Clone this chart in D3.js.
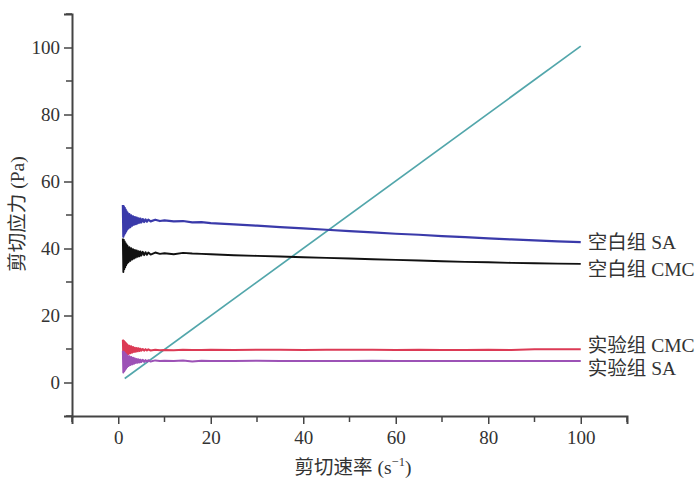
<!DOCTYPE html>
<html><head><meta charset="utf-8">
<script src="https://cdn.jsdelivr.net/npm/d3@7"></script>
<style>
html,body{margin:0;padding:0;background:#fff;}
svg text{font-family:"Liberation Serif","Noto Sans CJK SC",serif;fill:#333;}
</style></head>
<body><svg id="c" width="695" height="478"></svg>
<script>
// shear rate (s^-1)
const shearRate = [1.0,1.1,1.2,1.3,1.4,1.5,1.6,1.7,1.8,1.9,2.0,
  2.2,2.4,2.6,2.8,3.0,3.2,3.4,3.6,3.8,4.0,4.2,4.4,4.6,4.8,5.0,
  5.3,5.6,5.9,6.2,6.5,7,8,9,10,12,14,16,18,20,
  25,30,35,40,45,50,55,60,65,70,75,80,85,90,95,100];
// shear stress (Pa)
const blankSA  = [53,43.5,52.6,44.1,52.1,44.6,51.6,45.1,51.1,45.6,50.7,
  46.0,50.3,46.4,49.9,46.8,49.6,47.1,49.4,47.3,49.2,47.5,49.0,47.7,48.9,47.8,
  48.8,47.9,48.7,48.0,48.6,48.1,48.6,48.2,48.4,48.1,48.2,47.8,47.9,47.6,
  47.2,46.8,46.4,46.0,45.6,45.2,44.8,44.4,44.1,43.7,43.4,43.0,42.7,42.4,42.1,41.9];
const blankCMC = [43,33,42.6,33.8,42.1,34.4,41.6,35.0,41.2,35.5,40.8,
  35.9,40.4,36.3,40.1,36.7,39.8,37.0,39.6,37.3,39.4,37.5,39.2,37.7,39.1,37.9,
  39.0,38.0,38.9,38.1,38.8,38.2,38.8,38.4,38.6,38.3,38.7,38.5,38.4,38.3,
  38.0,37.8,37.6,37.4,37.2,37.0,36.8,36.6,36.4,36.2,36.0,35.9,35.7,35.6,35.5,35.4];
const expCMC   = [12.8,7.0,12.5,7.3,12.2,7.6,11.9,7.9,11.6,8.2,11.3,
  8.5,11.0,8.7,10.8,8.9,10.6,9.1,10.4,9.2,10.3,9.3,10.2,9.4,10.1,9.5,
  10.0,9.5,9.95,9.55,9.9,9.55,9.8,9.6,9.7,9.6,9.8,9.7,9.7,9.8,
  9.7,9.8,9.8,9.7,9.8,9.8,9.8,9.7,9.8,9.7,9.7,9.8,9.7,9.9,9.9,9.9];
const expSA    = [9.5,3.0,9.2,3.4,8.9,3.8,8.6,4.2,8.3,4.6,8.0,
  4.9,7.8,5.2,7.6,5.4,7.4,5.6,7.2,5.8,7.0,5.9,6.9,6.0,6.8,6.1,
  6.75,6.15,6.7,6.2,6.65,6.25,6.6,6.4,6.5,6.4,6.6,6.3,6.5,6.4,
  6.4,6.5,6.4,6.4,6.4,6.4,6.5,6.4,6.4,6.4,6.4,6.4,6.4,6.4,6.4,6.4];
const newtonX  = [1.4,100];
const newtonY  = [1.2,100.4];
const seriesNames = ["空白组 SA","空白组 CMC","实验组 CMC","实验组 SA"];
const seriesColors = ["#3a3aaa","#111111","#dc3a55","#9c52b6"];
const labelY = [41.9,33.6,10.9,4.3];
const xTicks = [0,20,40,60,80,100];
const yTicks = [0,20,40,60,80,100];
const minorTicks = [-10,10,30,50,70,90,110];

const svg = d3.select("#c");
const x = d3.scaleLinear().domain([-10,110]).range([72,627]);
const y = d3.scaleLinear().domain([-10,110]).range([416,14]);

const line = d3.line().x(d=>x(d[0])).y(d=>y(d[1]));
const allSeries = [blankSA, blankCMC, expCMC, expSA];
const widths = [2.2,1.9,2.0,2.0];
const order = [1,0,2,3];
// Newtonian reference line
svg.append("path").datum(d3.zip(newtonX,newtonY)).attr("d",line)
  .attr("fill","none").attr("stroke","#52a6ab").attr("stroke-width",1.7);
order.forEach(i=>{
  svg.append("path").datum(d3.zip(shearRate, allSeries[i])).attr("d",line)
    .attr("fill","none").attr("stroke",seriesColors[i]).attr("stroke-width",widths[i])
    .attr("stroke-linejoin","round");
});

// axes
const axisColor = "#444";
const gx = svg.append("g").attr("transform",`translate(0,${y(-10)})`)
  .call(d3.axisBottom(x).tickValues(xTicks).tickSize(8).tickPadding(7).tickFormat(d3.format("d")));
const gy = svg.append("g").attr("transform",`translate(${x(-10)},0)`)
  .call(d3.axisLeft(y).tickValues(yTicks).tickSize(8).tickPadding(4).tickFormat(d3.format("d")));
[gx,gy].forEach(g=>{
  g.select(".domain").attr("stroke",axisColor).attr("stroke-width",2);
  g.selectAll(".tick line").attr("stroke",axisColor).attr("stroke-width",1.5);
  g.selectAll(".tick text").attr("font-size",19).attr("fill","#333");
});
gx.selectAll(".minor").data(minorTicks).enter().append("line")
  .attr("x1",d=>x(d)).attr("x2",d=>x(d)).attr("y1",0).attr("y2",6)
  .attr("stroke",axisColor).attr("stroke-width",1.5);
gy.selectAll(".minor").data(minorTicks).enter().append("line")
  .attr("y1",d=>y(d)).attr("y2",d=>y(d)).attr("x1",0).attr("x2",-6)
  .attr("stroke",axisColor).attr("stroke-width",1.5);

// series labels
seriesNames.forEach((n,i)=>{
  svg.append("text").attr("x",x(100)+7).attr("y",y(labelY[i]))
    .attr("dominant-baseline","central").attr("font-size",19.5).text(n);
});

// axis titles
const xt = svg.append("text").attr("x",353).attr("y",474).attr("text-anchor","middle").attr("font-size",19.5);
xt.append("tspan").text("剪切速率 (s");
xt.append("tspan").attr("font-size",12.5).attr("dy",-8).text("−1");
xt.append("tspan").attr("dy",8).text(")");
svg.append("text").attr("transform","translate(24,214) rotate(-90)")
  .attr("text-anchor","middle").attr("font-size",19.5).text("剪切应力 (Pa)");
</script></body></html>
